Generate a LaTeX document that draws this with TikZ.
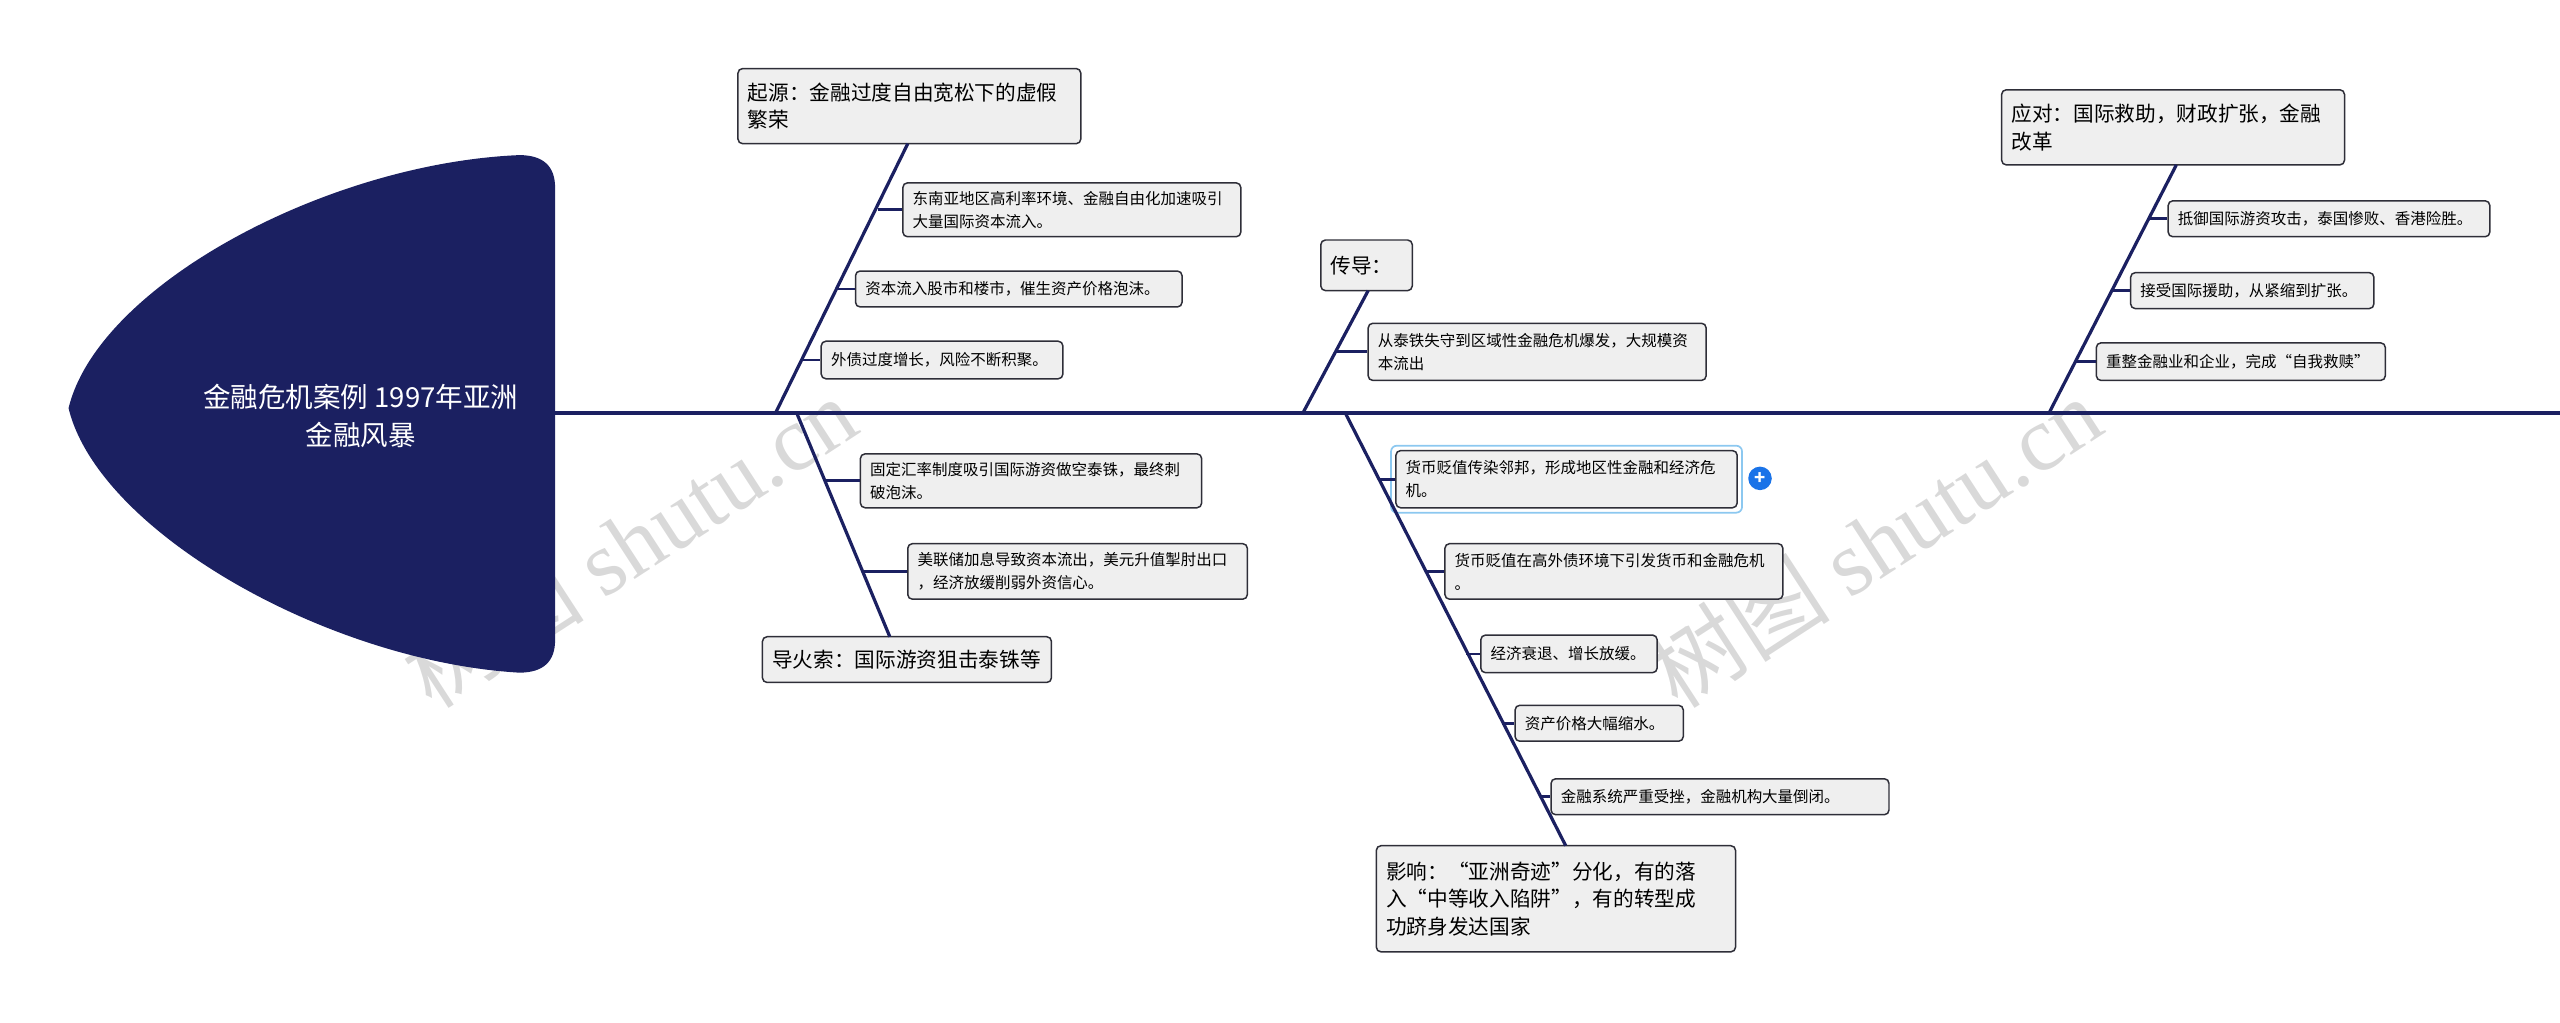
\documentclass[tikz,border=0pt]{standalone}
\usepackage{fontspec}
\setmainfont{Noto Sans CJK SC}
\newfontfamily\wmserif{Liberation Serif}
\XeTeXlinebreaklocale "zh"
\XeTeXlinebreakskip=0pt plus 1pt
\definecolor{navy}{HTML}{1B2061}
\definecolor{boxfill}{HTML}{EFEFEF}
\definecolor{boxline}{HTML}{2E2E38}
\definecolor{hl}{HTML}{8CC8F0}
\definecolor{plus}{HTML}{1A73E8}
\begin{document}
\begin{tikzpicture}[x=0.05cm,y=-0.05cm,
  bone/.style={navy,line width=2.8pt},
  stub/.style={navy,line width=2.4pt},
  wm/.style={rotate=33,text=gray!30,font=\fontsize{80}{80}\selectfont},
  sbox/.style={draw=boxline,fill=boxfill,rounded corners=4pt,line width=1.3pt,align=left,font=\fontsize{13.5}{20}\selectfont,inner xsep=0.3cm,inner ysep=0pt},
  mbox/.style={sbox,font=\fontsize{18}{24}\selectfont}]
\useasboundingbox (0,0) rectangle (1568,626);
% watermarks
\node[wm] (wm1) at (385,332) {树图 {\wmserif shutu.cn}};
\node[wm] (wm2) at (1148,332) {树图 {\wmserif shutu.cn}};
% head
\fill[navy] (318,95) .. controls (200,100) and (60,175) .. (42,250) .. controls (60,325) and (200,405) .. (318,412) .. controls (333,412) and (340,405) .. (340,392) -- (340,115) .. controls (340,102) and (333,95) .. (318,95) -- cycle;
\node[text=white,align=center,font=\fontsize{24}{33}\selectfont] (head) at (221,255) {金融危机案例 1997年亚洲\\金融风暴};
% spine
\coordinate (sp0) at (340,253);
\coordinate (sp1) at (1568,253);
\draw[bone] (sp0) -- (sp1);
\coordinate (b1u) at (475,253);
\coordinate (b1d) at (488,253);
\coordinate (b2u) at (798,253);
\coordinate (b2d) at (824,253);
\coordinate (b3u) at (1255,253);
% boxes
\node[mbox,minimum width=10.5cm,minimum height=2.3cm,text width=9.9cm] (origin) at (557,65) {起源：金融过度自由宽松下的虚假\\繁荣};
\node[sbox,minimum width=10.35cm,minimum height=1.65cm,text width=9.75cm] (s1) at (656.5,128.5) {东南亚地区高利率环境、金融自由化加速吸引\\大量国际资本流入。};
\node[sbox,minimum width=10.0cm,minimum height=1.1cm,text width=9.4cm] (s2) at (624,177) {资本流入股市和楼市，催生资产价格泡沫。};
\node[sbox,minimum width=7.4cm,minimum height=1.15cm,text width=6.8cm] (s3) at (577,220.5) {外债过度增长，风险不断积聚。};
\node[mbox,minimum width=8.85cm,minimum height=1.4cm,text width=8.25cm] (fuse) at (555.5,404) {导火索：国际游资狙击泰铢等};
\node[sbox,minimum width=10.45cm,minimum height=1.65cm,text width=9.85cm] (s4) at (631.5,294.5) {固定汇率制度吸引国际游资做空泰铢，最终刺\\破泡沫。};
\node[sbox,minimum width=10.4cm,minimum height=1.7cm,text width=9.8cm] (s5) at (660,350) {美联储加息导致资本流出，美元升值掣肘出口\\，经济放缓削弱外资信心。};
\node[mbox,minimum width=2.8cm,minimum height=1.55cm,text width=2.2cm] (trans) at (837,162.5) {传导：};
\node[sbox,minimum width=10.35cm,minimum height=1.75cm,text width=9.75cm] (s6) at (941.5,215.5) {从泰铁失守到区域性金融危机爆发，大规模资\\本流出};
\node[mbox,minimum width=11.0cm,minimum height=3.25cm,text width=10.4cm] (impact) at (953,550.5) {影响：“亚洲奇迹”分化，有的落\\入“中等收入陷阱”，有的转型成\\功跻身发达国家};
\draw[hl,line width=1.5pt,rounded corners=5pt] (852,273) rectangle (1067,314);
\node[sbox,minimum width=10.45cm,minimum height=1.75cm,text width=9.85cm] (s7) at (959.5,293.5) {货币贬值传染邻邦，形成地区性金融和经济危\\机。};
\node[sbox,minimum width=10.35cm,minimum height=1.7cm,text width=9.75cm] (s8) at (988.5,350) {货币贬值在高外债环境下引发货币和金融危机\\。};
\node[sbox,minimum width=5.4cm,minimum height=1.15cm,text width=4.8cm] (s9) at (961,400.5) {经济衰退、增长放缓。};
\node[sbox,minimum width=5.15cm,minimum height=1.1cm,text width=4.55cm] (s10) at (979.5,443) {资产价格大幅缩水。};
\node[sbox,minimum width=10.35cm,minimum height=1.1cm,text width=9.75cm] (s11) at (1053.5,488) {金融系统严重受挫，金融机构大量倒闭。};
\node[mbox,minimum width=10.5cm,minimum height=2.3cm,text width=9.9cm] (resp) at (1331,78) {应对：国际救助，财政扩张，金融\\改革};
\node[sbox,minimum width=9.85cm,minimum height=1.1cm,text width=9.25cm] (s12) at (1426.5,134) {抵御国际游资攻击，泰国惨败、香港险胜。};
\node[sbox,minimum width=7.45cm,minimum height=1.1cm,text width=6.85cm] (s13) at (1379.5,178) {接受国际援助，从紧缩到扩张。};
\node[sbox,minimum width=8.85cm,minimum height=1.15cm,text width=8.25cm] (s14) at (1372.5,221.5) {重整金融业和企业，完成“自我救赎”};
\node[circle,fill=plus,text=white,inner sep=0pt,minimum size=0.72cm,font=\bfseries\fontsize{16}{16}\selectfont] (plusicon) at (1078,293) {+};
% bones
\coordinate (o1) at (556,88);
\draw[bone] (b1u) -- (o1);
\coordinate (f1) at (545,390);
\draw[bone] (b1d) -- (f1);
\coordinate (t1) at (838,178);
\draw[bone] (b2u) -- (t1);
\coordinate (i1) at (959,518);
\draw[bone] (b2d) -- (i1);
\coordinate (r1) at (1333,101);
\draw[bone] (b3u) -- (r1);
% stubs
\coordinate (k1) at (538,128.5); \draw[stub] (k1) -- (s1.west);
\coordinate (k2) at (512,177); \draw[stub] (k2) -- (s2.west);
\coordinate (k3) at (491,220.5); \draw[stub] (k3) -- (s3.west);
\coordinate (k4) at (505,294.5); \draw[stub] (k4) -- (s4.west);
\coordinate (k5) at (528,350); \draw[stub] (k5) -- (s5.west);
\coordinate (k6) at (818,215.5); \draw[stub] (k6) -- (s6.west);
\coordinate (k7) at (844,293.5); \draw[stub] (k7) -- (s7.west);
\coordinate (k8) at (873,350); \draw[stub] (k8) -- (s8.west);
\coordinate (k9) at (898,400.5); \draw[stub] (k9) -- (s9.west);
\coordinate (k10) at (920,443); \draw[stub] (k10) -- (s10.west);
\coordinate (k11) at (943,488); \draw[stub] (k11) -- (s11.west);
\coordinate (k12) at (1316,134); \draw[stub] (k12) -- (s12.west);
\coordinate (k13) at (1293,178); \draw[stub] (k13) -- (s13.west);
\coordinate (k14) at (1271,221.5); \draw[stub] (k14) -- (s14.west);
\end{tikzpicture}
\end{document}
